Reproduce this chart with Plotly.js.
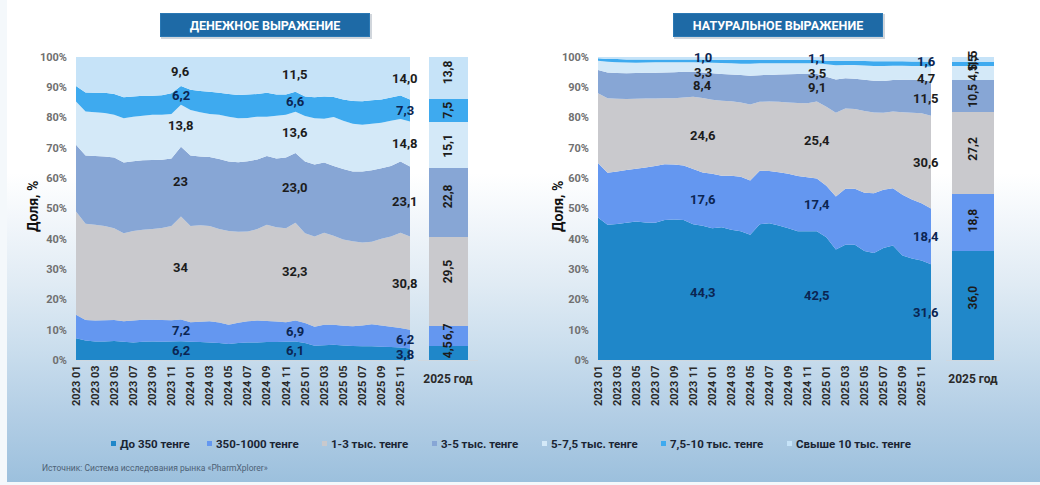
<!DOCTYPE html>
<html>
<head>
<meta charset="utf-8">
<script src="https://cdn.plot.ly/plotly-3.0.1.min.js"></script>
<style>
html,body{margin:0;padding:0;width:1040px;height:485px;overflow:hidden;background:#f4f8fb;}
#bg{position:absolute;left:7px;top:0;width:1033px;height:482px;
 background:linear-gradient(180deg,#ffffff 0%,#ffffff 36%,#f3f7fb 45%,#e0ebf4 59%,#c9dded 73%,#b3cee5 86%,#9cc0dd 100%);}
#chart{position:absolute;left:0;top:0;width:1040px;height:485px;}
</style>
</head>
<body>
<div id="bg"></div>
<div id="chart"></div>
<script>
// ---------------- DATA ----------------
const months = ["2023 01","2023 02","2023 03","2023 04","2023 05","2023 06","2023 07","2023 08","2023 09","2023 10","2023 11","2023 12",
                "2024 01","2024 02","2024 03","2024 04","2024 05","2024 06","2024 07","2024 08","2024 09","2024 10","2024 11","2024 12",
                "2025 01","2025 02","2025 03","2025 04","2025 05","2025 06","2025 07","2025 08","2025 09","2025 10","2025 11","2025 12"];
const tickMonths = ["2023 01","2023 03","2023 05","2023 07","2023 09","2023 11","2024 01","2024 03","2024 05","2024 07","2024 09","2024 11",
                    "2025 01","2025 03","2025 05","2025 07","2025 09","2025 11"];
const yearCategory = ["2025 год"];
const seriesNames = ["До 350 тенге","350-1000 тенге","1-3 тыс. тенге","3-5 тыс. тенге","5-7,5 тыс. тенге","7,5-10 тыс. тенге","Свыше 10 тыс. тенге"];

// Денежное выражение, доля, %
const money350   = [7.2,6.4,6.1,6.1,6.3,6.0,5.8,6.0,6.1,6.0,6.1,6.2, 6.0,5.9,5.8,5.6,5.3,5.6,5.8,5.8,5.9,5.9,6.0,6.1, 5.6,4.7,4.9,5.0,4.8,4.6,4.5,4.5,4.4,4.3,4.1,3.8];
const money1000  = [7.7,6.8,6.9,7.0,6.9,6.8,7.2,7.3,7.2,7.2,7.0,7.2, 6.5,6.7,7.0,6.8,6.3,6.7,7.0,7.2,7.0,6.8,6.5,6.9, 6.6,6.3,6.7,6.6,6.5,6.5,6.9,7.3,7.0,6.7,6.5,6.2];
const money3k    = [34.1,31.8,31.6,31.1,30.3,29.0,29.6,29.7,29.9,30.4,31.1,34.0, 31.7,31.9,31.4,30.8,31.0,30.0,29.6,30.2,31.7,31.1,31.0,32.3, 29.6,29.8,30.4,29.4,28.5,28.1,27.4,27.2,28.6,29.8,31.4,30.8];
const money5k    = [22.0,22.5,22.7,23.0,23.3,23.4,23.0,22.9,22.8,22.5,22.3,23.0, 23.3,22.7,22.8,23.1,22.9,23.0,23.2,23.0,22.7,22.7,23.3,23.0, 23.7,23.7,23.2,23.0,23.2,23.0,23.4,23.6,23.3,23.2,23.5,23.1];
const money7k    = [14.3,14.5,14.5,14.3,14.1,14.6,14.7,14.7,14.9,14.8,14.7,13.8, 15.0,14.6,14.2,14.6,14.8,14.5,14.3,14.1,13.0,14.1,14.1,13.6, 15.0,15.3,14.4,16.2,16.0,15.8,15.4,15.4,15.0,15.0,14.0,14.8];
const money10k   = [5.1,6.3,6.4,6.7,6.9,6.9,6.7,6.6,6.3,6.5,6.8,6.2, 6.7,7.0,7.3,7.3,7.5,7.7,7.7,7.5,7.9,7.0,6.7,6.6, 6.5,6.9,7.4,6.6,7.0,7.5,7.8,7.7,7.7,7.6,7.8,7.3];
const moneyOver10k = [9.6,11.7,11.8,11.8,12.2,13.3,13.0,12.8,12.8,12.6,12.0,9.6, 10.8,11.2,11.5,11.8,12.2,12.5,12.4,12.2,11.8,12.4,12.4,11.5, 13.0,13.3,13.0,13.2,14.0,14.5,14.6,14.3,14.0,13.4,12.7,14.0];
const moneyYear2025 = [4.5,6.7,29.5,22.8,15.1,7.5,13.8];

// Натуральное выражение, доля, %
const nat350   = [47.0,44.6,44.9,45.3,45.7,45.4,45.3,46.2,46.4,46.2,44.8,44.3, 43.5,43.8,43.0,42.5,41.3,44.8,45.1,44.4,43.5,42.5,42.5,42.5, 40.5,36.5,38.0,38.0,36.0,35.3,37.0,37.8,34.5,33.5,32.8,31.6];
const nat1000  = [18.0,17.2,17.3,17.4,17.4,18.1,18.7,18.4,18.1,18.0,18.2,17.6, 18.0,17.0,17.8,18.0,17.9,17.7,17.3,17.6,18.0,18.2,17.8,17.4, 17.0,17.5,18.5,18.5,19.2,19.7,19.2,18.9,20.0,19.5,18.9,18.4];
const nat3k    = [23.0,24.6,24.0,23.4,23.1,22.8,22.3,21.8,21.9,22.4,23.9,24.6, 24.4,24.8,24.6,24.5,25.1,22.7,22.9,23.2,23.5,24.1,24.4,25.4, 26.1,27.6,26.5,26.3,27.0,26.7,25.4,25.3,27.3,28.6,29.7,30.6];
const nat5k    = [7.7,8.5,8.5,8.5,8.5,8.5,8.5,8.5,8.6,8.5,8.2,8.4, 8.7,8.8,8.8,9.1,9.5,8.8,8.8,9.0,9.3,9.6,9.7,9.1, 9.9,11.0,10.0,10.0,10.3,10.5,10.5,10.4,10.7,10.9,11.0,11.5];
const nat7k    = [3.1,3.5,3.6,3.6,3.4,3.4,3.5,3.4,3.3,3.2,3.2,3.3, 3.5,3.6,3.7,3.7,4.0,3.9,3.8,3.7,3.6,3.5,3.5,3.5, 4.1,4.7,4.4,4.6,4.7,4.8,4.9,4.7,4.6,4.5,4.6,4.7];
const nat10k   = [0.8,0.9,1.0,1.0,1.1,1.0,0.9,0.9,0.9,0.9,0.9,1.0, 1.0,1.1,1.1,1.2,1.2,1.1,1.1,1.1,1.1,1.1,1.1,1.1, 1.2,1.4,1.4,1.4,1.5,1.6,1.6,1.5,1.5,1.5,1.5,1.6];
const natOver10k = [0.4,0.7,0.7,0.8,0.8,0.8,0.8,0.8,0.8,0.8,0.8,0.8, 0.9,0.9,1.0,1.0,1.0,1.0,1.0,1.0,1.0,1.0,1.0,1.0, 1.2,1.3,1.2,1.2,1.3,1.4,1.4,1.4,1.4,1.5,1.5,1.6];
const natYear2025 = [36.0,18.8,27.2,10.5,4.5,1.5,1.5];

// Подписи значений (декабрь каждого года) и столбца 2025 год
const labelMonths = ["2023 12","2024 12","2025 12"];
const moneyLabels = [["6,2","7,2","34","23","13,8","6,2","9,6"],
                     ["6,1","6,9","32,3","23,0","13,6","6,6","11,5"],
                     ["3,8","6,2","30,8","23,1","14,8","7,3","14,0"]];
const natLabels   = [["44,3","17,6","24,6","8,4","3,3","1,0",""],
                     ["42,5","17,4","25,4","9,1","3,5","1,1",""],
                     ["31,6","18,4","30,6","11,5","4,7","1,6",""]];
const moneyYearLabels = ["4,5","6,7","29,5","22,8","15,1","7,5","13,8"];
const natYearLabels   = ["36,0","18,8","27,2","10,5","4,5","1,5","1,5"];

// ---------------- STYLE ----------------
const colors = ["#1f87c9","#6497f0","#c9c9cd","#87a6d5","#d4e9f8","#3eaaef","#c6e3f8"];
const labelColors = ["#0b2552","#0b2552","#1c1c1c","#1c1c1c","#1c1c1c","#0b2552","#1c1c1c"];
const moneyBarShift = [3,4,10,6,-1,0,6];
const natBarShift   = [8,2,4,0,0,0,0];
const W = 1040, H = 485;
const FONT = "Roboto, 'Liberation Sans', sans-serif";

const moneySeries = [money350,money1000,money3k,money5k,money7k,money10k,moneyOver10k];
const natSeries   = [nat350,nat1000,nat3k,nat5k,nat7k,nat10k,natOver10k];

const traces = [];
const annotations = [];
const shapes = [];

function addArea(series, xa, ya, group){
  series.forEach((vals,k)=>{
    traces.push({type:'scatter', x:months, y:vals, xaxis:xa, yaxis:ya, stackgroup:group,
      mode:'none', fillcolor:colors[k], name:seriesNames[k], showlegend:false, hoverinfo:'skip'});
  });
}
function addBar(vals, texts, xa, ya, w, shifts){
  let cum = 0;
  vals.forEach((v,k)=>{
    traces.push({type:'bar', x:yearCategory, y:[v], xaxis:xa, yaxis:ya, width:w,
      marker:{color:colors[k], line:{width:0}}, name:seriesNames[k], showlegend:false, hoverinfo:'skip'});
    annotations.push({xref:xa, yref:ya, x:0, y:cum + v/2, text:texts[k], textangle:-90, showarrow:false,
      xanchor:'center', yanchor:'middle', yshift:shifts[k],
      font:{family:FONT, size:12, color:'#1c1c1c', weight:'bold'}});
    cum += v;
  });
}
addArea(moneySeries,'x','y','money');
addBar(moneyYear2025, moneyYearLabels, 'x2','y3', 0.65, moneyBarShift);
addArea(natSeries,'x3','y2','nat');
addBar(natYear2025, natYearLabels, 'x4','y4', 0.76, natBarShift);

function addLabels(series, labels, xa, ya, xshifts, yshiftFn){
  labelMonths.forEach((m,j)=>{
    const idx = months.indexOf(m);
    let cum = 0;
    series.forEach((vals,k)=>{
      const v = vals[idx];
      const mid = cum + v/2;
      cum += v;
      if(!labels[j][k]) return;
      annotations.push({xref:xa, yref:ya, x:idx, y:mid, text:labels[j][k], showarrow:false,
        xanchor:'center', yanchor:'middle', xshift:xshifts[j], yshift:yshiftFn(k),
        font:{family:FONT, size:13, color:labelColors[k], weight:'bold'}});
    });
  });
}
addLabels(moneySeries, moneyLabels, 'x', 'y', [0,0,-5], k=>0);
addLabels(natSeries, natLabels, 'x3', 'y2', [0,0,-5], k=>(k===5?3:(k===4?-5:0)));

// Title boxes
function titleBox(cx, text){
  shapes.push({type:'rect', xref:'paper', yref:'paper', x0:(cx-104)/W, x1:(cx+107)/W, y0:1-39/H, y1:1-14/H,
    fillcolor:'rgba(0,30,60,0.18)', line:{width:0}, layer:'below'});
  annotations.push({xref:'paper', yref:'paper', x:cx/W, y:1-25/H, xanchor:'center', yanchor:'middle',
    text:text, showarrow:false, bgcolor:'#1e6aa6', bordercolor:'#2a78b4', borderwidth:1, borderpad:0,
    width:208, height:22, font:{family:FONT, size:12.5, color:'#ffffff', weight:'bold'}});
}
titleBox(265, 'ДЕНЕЖНОЕ ВЫРАЖЕНИЕ');
titleBox(778, 'НАТУРАЛЬНОЕ ВЫРАЖЕНИЕ');

// Y-axis titles
[[33,'Доля, %'],[558,'Доля, %']].forEach(([x,t])=>{
  annotations.push({xref:'paper', yref:'paper', x:x/W, y:1-207/H, xanchor:'center', yanchor:'middle',
    text:t, textangle:-90, showarrow:false, font:{family:FONT, size:14, color:'#111111', weight:'bold'}});
});

// Legend
const legendX = [111,207,322,432,542,661,787];
seriesNames.forEach((n,k)=>{
  const x0 = legendX[k];
  shapes.push({type:'rect', xref:'paper', yref:'paper', x0:x0/W, x1:(x0+5)/W, y0:1-446/H, y1:1-441/H,
    fillcolor:colors[k], line:{width:0}});
  annotations.push({xref:'paper', yref:'paper', x:(x0+7)/W, y:1-443.5/H, xanchor:'left', yanchor:'middle',
    text:n, showarrow:false, font:{family:FONT, size:11.5, color:'#1a2433', weight:'bold'}});
});

// Source
annotations.push({xref:'paper', yref:'paper', x:40/W, y:1-468/H, xanchor:'left', yanchor:'middle',
  text:'Источник: Система исследования рынка «PharmXplorer»', showarrow:false,
  font:{family:FONT, size:8.5, color:'#4d6175'}});

const yDom = [1-360/H, 1-57/H];
const yBase = {domain:yDom, range:[0,100], tickmode:'linear', tick0:0, dtick:10, ticksuffix:'%',
  showgrid:false, zeroline:false, showline:false, ticks:'', ticklabelstandoff:8,
  tickfont:{family:FONT, size:11, color:'#707070', weight:'bold'}, fixedrange:true};
const xArea = {type:'category', categoryorder:'array', categoryarray:months, range:[0,35],
  tickmode:'array', tickvals:tickMonths, ticktext:tickMonths, tickangle:-90, ticks:'',
  showgrid:false, zeroline:false, showline:true, linecolor:'#cfd8e0', linewidth:1,
  tickfont:{family:FONT, size:11, color:'#2a2a2a', weight:'bold'}, fixedrange:true};
const xBar = {type:'category', range:[-0.5,0.5], ticks:'', showgrid:false, zeroline:false,
  showline:true, linecolor:'#cfd8e0', linewidth:1, ticklabelstandoff:8,
  tickfont:{family:FONT, size:12, color:'#2a2a2a', weight:'bold'}, fixedrange:true};

const layout = {
  width:W, height:H, margin:{l:0,r:0,t:0,b:0},
  paper_bgcolor:'rgba(0,0,0,0)', plot_bgcolor:'rgba(0,0,0,0)',
  showlegend:false, barmode:'stack', font:{family:FONT},
  xaxis:  Object.assign({}, xArea, {domain:[76/W,410/W], anchor:'y'}),
  xaxis2: Object.assign({}, xBar,  {domain:[418/W,478/W], anchor:'y3'}),
  xaxis3: Object.assign({}, xArea, {domain:[598/W,931/W], anchor:'y2'}),
  xaxis4: Object.assign({}, xBar,  {domain:[946/W,1000/W], anchor:'y4'}),
  yaxis:  Object.assign({}, yBase, {anchor:'x'}),
  yaxis2: Object.assign({}, yBase, {anchor:'x3'}),
  yaxis3: {domain:yDom, range:[0,100], visible:false, anchor:'x2', fixedrange:true},
  yaxis4: {domain:yDom, range:[0,100], visible:false, anchor:'x4', fixedrange:true},
  annotations: annotations,
  shapes: shapes
};

Plotly.newPlot('chart', traces, layout, {staticPlot:true, displayModeBar:false});
</script>
</body>
</html>
